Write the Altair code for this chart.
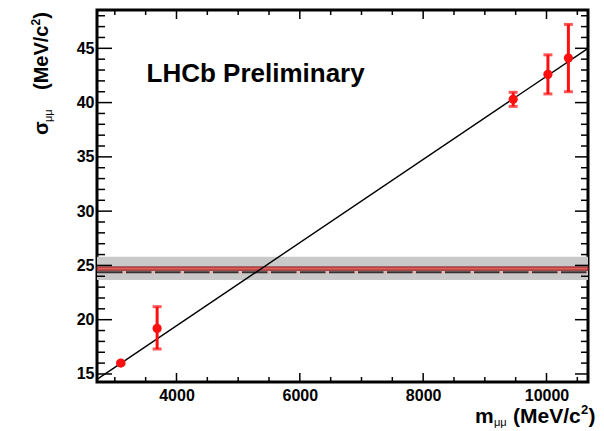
import altair as alt
import pandas as pd

# ---------------- data ----------------
mass = [3097, 3686, 9460, 10023, 10355]
sigma = [16.0, 19.2, 40.3, 42.6, 44.1]
err_lo = [15.9, 17.3, 39.65, 40.8, 41.0]
err_hi = [16.1, 21.2, 40.95, 44.4, 47.2]

fit_x = [2711, 10673]
fit_y = [14.5, 45.0]

band_lo = [23.65]
band_hi = [25.8]
red_lo = [24.56]
red_hi = [24.86]
dash_y = [24.38]

x_major = [4000, 6000, 8000, 10000]
x_minor = [3000, 3500, 4500, 5000, 5500, 6500, 7000, 7500, 8500, 9000, 9500, 10500]
y_major = [15, 20, 25, 30, 35, 40, 45]
y_minor = [16, 17, 18, 19, 21, 22, 23, 24, 26, 27, 28, 29, 31, 32, 33, 34,
           36, 37, 38, 39, 41, 42, 43, 44, 46, 47, 48]

W, H = 491, 372
FONT = "Liberation Sans"

xscale = alt.Scale(domain=[2711, 10673], nice=False, zero=False)
yscale = alt.Scale(domain=[14.26, 48.53], nice=False, zero=False)
xaxis = alt.Axis(values=x_major, ticks=False, domain=False, grid=False, labelFont=FONT,
                 labelFontWeight="bold", labelFontSize=16, labelPadding=5, labelColor="black",
                 labelFlush=False, title=None, format="d")
yaxis = alt.Axis(values=y_major, ticks=False, domain=False, grid=False, labelFont=FONT,
                 labelFontWeight="bold", labelFontSize=16, labelPadding=3, labelColor="black",
                 labelFlush=False, title=None)

X = lambda: alt.X("x:Q", scale=xscale, axis=xaxis, title=None)
Y = lambda: alt.Y("y:Q", scale=yscale, axis=yaxis, title=None)

pts = pd.DataFrame({"x": mass, "y": sigma, "lo": err_lo, "hi": err_hi})

band = alt.Chart(pd.DataFrame({"y": band_lo, "y2": band_hi})).mark_rect(color="#c9c9c9").encode(
    y=Y(), y2="y2:Q", x=alt.value(0), x2=alt.value(W))
redband = alt.Chart(pd.DataFrame({"y": red_lo, "y2": red_hi})).mark_rect(
    color="#e06060", stroke="#8c1c1c", strokeWidth=1).encode(
    y=Y(), y2="y2:Q", x=alt.value(0), x2=alt.value(W))
dash_bg = alt.Chart(pd.DataFrame({"y": dash_y})).mark_rule(color="#eab4b4", strokeWidth=2).encode(
    y=Y(), x=alt.value(0), x2=alt.value(W))
dash = alt.Chart(pd.DataFrame({"y": dash_y})).mark_rule(
    color="#333333", strokeWidth=2, strokeDash=[25.5, 3.5]).encode(
    y=Y(), x=alt.value(0), x2=alt.value(W))

fit = alt.Chart(pd.DataFrame({"x": fit_x, "y": fit_y})).mark_line(
    color="black", strokeWidth=1.4, clip=True).encode(x=X(), y=Y())

bars = alt.Chart(pts).mark_rule(color="#ff1010", strokeWidth=3).encode(
    x=X(), y=alt.Y("lo:Q", scale=yscale, axis=yaxis, title=None), y2="hi:Q")
cap_lo = alt.Chart(pts).mark_tick(color="#ff1010", orient="horizontal", size=9, thickness=3).encode(
    x=X(), y=alt.Y("lo:Q", scale=yscale, axis=yaxis, title=None))
cap_hi = alt.Chart(pts).mark_tick(color="#ff1010", orient="horizontal", size=9, thickness=3).encode(
    x=X(), y=alt.Y("hi:Q", scale=yscale, axis=yaxis, title=None))
dots = alt.Chart(pts).mark_circle(color="#ff1010", size=85, opacity=1).encode(x=X(), y=Y())

# ROOT-style inward ticks
xt_major = pd.DataFrame({"x": x_major})
xt_minor = pd.DataFrame({"x": x_minor})
yt_major = pd.DataFrame({"y": y_major})
yt_minor = pd.DataFrame({"y": y_minor})
tk = dict(color="black", strokeWidth=1.5)
ticks = [
    alt.Chart(xt_major).mark_rule(**tk).encode(x=X(), y=alt.value(H), y2=alt.value(H - 9)),
    alt.Chart(xt_major).mark_rule(**tk).encode(x=X(), y=alt.value(0), y2=alt.value(9)),
    alt.Chart(xt_minor).mark_rule(**tk).encode(x=X(), y=alt.value(H), y2=alt.value(H - 5)),
    alt.Chart(xt_minor).mark_rule(**tk).encode(x=X(), y=alt.value(0), y2=alt.value(5)),
    alt.Chart(yt_major).mark_rule(**tk).encode(y=Y(), x=alt.value(0), x2=alt.value(15)),
    alt.Chart(yt_major).mark_rule(**tk).encode(y=Y(), x=alt.value(W), x2=alt.value(W - 13)),
    alt.Chart(yt_minor).mark_rule(**tk).encode(y=Y(), x=alt.value(0), x2=alt.value(8)),
    alt.Chart(yt_minor).mark_rule(**tk).encode(y=Y(), x=alt.value(W), x2=alt.value(W - 7)),
]

def txt(s, x, y, size, angle=0, align="left", weight="bold"):
    return alt.Chart(pd.DataFrame({"t": [s]})).mark_text(
        font=FONT, fontWeight=weight, fontSize=size, align=align, baseline="alphabetic",
        angle=angle, color="black").encode(text="t:N", x=alt.value(x), y=alt.value(y))

texts = [
    txt("LHCb Preliminary", 49.5, 72, 26),
    # x title
    txt("m", 378, 413, 21),
    txt("μμ", 397, 416, 11, weight="normal"),
    txt("(MeV/c", 416, 413, 21),
    txt("2", 484, 404, 13),
    txt(")", 491.5, 413, 21),
    # y title (rotated)
    txt("σ", -49, 125, 20, angle=270),
    txt("μμ", -45, 112, 11, angle=270, weight="normal"),
    txt("(MeV/c", -49, 80, 20, angle=270),
    txt("2", -57, 15.5, 12, angle=270),
    txt(")", -49, 8.8, 20, angle=270),
]

chart = alt.layer(band, redband, dash_bg, dash, fit, bars, cap_lo, cap_hi, dots, *ticks, *texts).properties(
    width=W, height=H,
    autosize=alt.AutoSizeParams(type="none"),
    padding={"left": 89, "top": 2, "right": 8, "bottom": 49},
).configure_view(stroke="black", strokeWidth=3)

chart.save("out.html", embed_options={"renderer": "svg", "actions": False})
